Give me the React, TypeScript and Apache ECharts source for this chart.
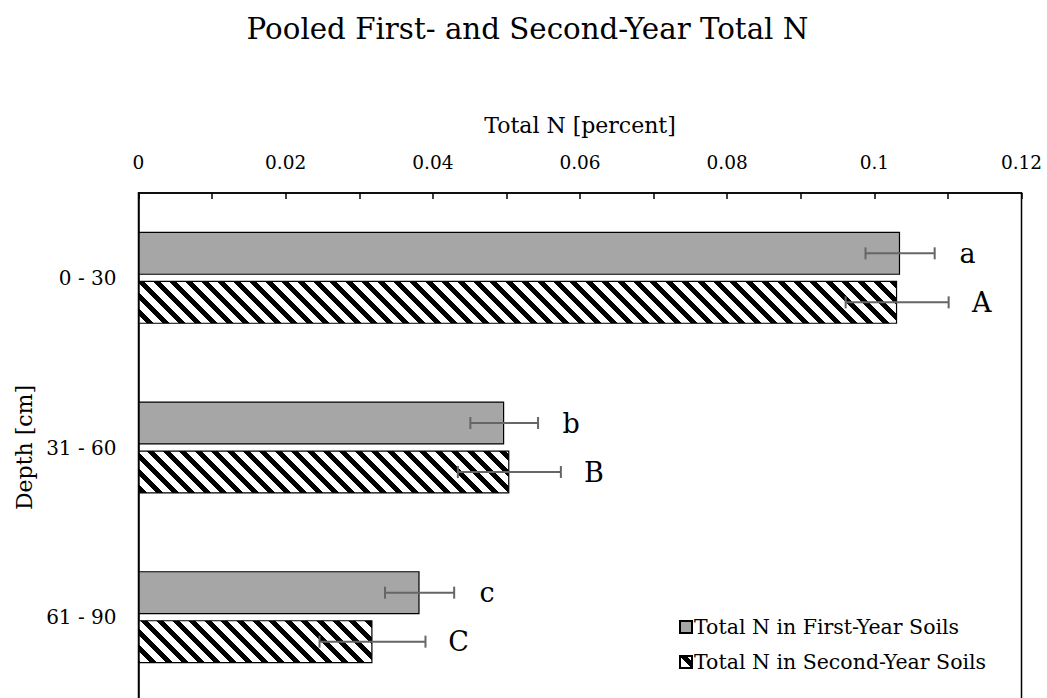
import React, { useEffect, useRef } from "react";
import * as echarts from "echarts";

const categories = ["0 - 30", "31 - 60", "61 - 90"];
const seriesNames = ["Total N in First-Year Soils", "Total N in Second-Year Soils"];
const firstYear = [0.1035, 0.0497, 0.0382];
const firstYearErr = [0.0047, 0.0046, 0.0047];
const firstYearLetters = ["a", "b", "c"];
const secondYear = [0.1031, 0.0504, 0.0318];
const secondYearErr = [0.0070, 0.0070, 0.0072];
const secondYearLetters = ["A", "B", "C"];
const xTickMin = 0;
const xTickMax = 0.12;
const xTickInterval = 0.02;

const FONT = "'DejaVu Serif', 'Liberation Serif', serif";
const BAR_W = 43;
const BAR_GAP = 6;

function makeHatch(): HTMLCanvasElement {
  const c = document.createElement("canvas");
  c.width = 16;
  c.height = 16;
  const ctx = c.getContext("2d")!;
  ctx.fillStyle = "#ffffff";
  ctx.fillRect(0, 0, 16, 16);
  ctx.fillStyle = "#000000";
  for (let y = 0; y < 16; y++) {
    for (let x = 0; x < 16; x++) {
      if (((x - y + 32) % 16) < 7) ctx.fillRect(x, y, 1, 1);
    }
  }
  return c;
}

export default function App() {
  const ref = useRef<HTMLDivElement>(null);
  useEffect(() => {
    if (!ref.current) return;
    const chart = echarts.init(ref.current, undefined, { renderer: "svg" });
    const hatch = makeHatch();
    const hatchFill: any = {
      image: hatch.toDataURL(),
      repeat: "repeat",
      imageWidth: 16,
      imageHeight: 16,
    };

    const errData: any[] = [];
    categories.forEach((_, i) => {
      errData.push([i, firstYear[i], firstYearErr[i], firstYearLetters[i], 0]);
      errData.push([i, secondYear[i], secondYearErr[i], secondYearLetters[i], 1]);
    });

    const option: any = {
      animation: false,
      textStyle: { fontFamily: FONT },
      graphic: [
        {
          type: "text",
          x: 527.5,
          y: 29,
          style: {
            text: "Pooled First- and Second-Year Total N",
            font: `29.3px ${FONT}`,
            fill: "#000",
            textAlign: "center",
            textVerticalAlign: "middle",
          },
        },
      ],
      grid: {
        left: 138.5,
        right: 25.5,
        top: 193,
        bottom: 18,
        show: true,
        borderColor: "#000",
        borderWidth: 1.5,
        backgroundColor: "transparent",
      },
      legend: {
        orient: "vertical",
        left: 679,
        top: 616.5,
        padding: 0,
        itemWidth: 12,
        itemHeight: 12,
        itemGap: 14,
        icon: "rect",
        data: seriesNames,
        textStyle: { fontFamily: FONT, fontSize: 20.5, color: "#000", padding: [0, 0, 0, -3] },
      },
      xAxis: {
        type: "value",
        position: "top",
        min: xTickMin,
        max: xTickMax,
        interval: xTickInterval,
        name: "Total N [percent]",
        nameLocation: "middle",
        nameGap: 57,
        nameTextStyle: { fontFamily: FONT, fontSize: 22, color: "#000" },
        axisLine: { show: true, lineStyle: { color: "#000", width: 1.5 } },
        axisTick: { show: true, inside: true, length: 6, lineStyle: { color: "#000", width: 1.5 } },
        minorTick: { show: true, splitNumber: 2, length: 6, lineStyle: { color: "#000", width: 1.5 } },
        axisLabel: { fontFamily: FONT, fontSize: 18.5, color: "#000", margin: 21 },
        splitLine: { show: false },
      },
      yAxis: {
        type: "category",
        inverse: true,
        data: categories,
        name: "Depth [cm]",
        nameLocation: "middle",
        nameGap: 102,
        nameRotate: 90,
        nameTextStyle: { fontFamily: FONT, fontSize: 22, color: "#000" },
        axisLine: { show: true, lineStyle: { color: "#000", width: 1.5 } },
        axisTick: { show: false },
        axisLabel: { fontFamily: FONT, fontSize: 20, color: "#000", margin: 22 },
        splitLine: { show: false },
      },
      series: [
        {
          name: seriesNames[0],
          type: "bar",
          data: firstYear,
          barWidth: BAR_W,
          barGap: `${(BAR_GAP / BAR_W) * 100}%`,
          itemStyle: { color: "#a6a6a6", borderColor: "#000", borderWidth: 1.2 },
        },
        {
          name: seriesNames[1],
          type: "bar",
          data: secondYear,
          barWidth: BAR_W,
          barGap: `${(BAR_GAP / BAR_W) * 100}%`,
          itemStyle: { color: hatchFill, borderColor: "#000", borderWidth: 1.2 },
        },
        {
          type: "custom",
          name: "errors",
          data: errData,
          z: 10,
          renderItem: (params: any, api: any) => {
            const cat = api.value(0);
            const v = api.value(1);
            const e = api.value(2);
            const idx = api.value(4);
            const letter = errData[params.dataIndex][3];
            const yc = api.coord([0, cat])[1] + (idx === 0 ? -1 : 1) * (BAR_W + BAR_GAP) / 2;
            const x1 = api.coord([v - e, cat])[0];
            const x2 = api.coord([v + e, cat])[0];
            const ls = { stroke: "#666666", lineWidth: 2 };
            return {
              type: "group",
              children: [
                { type: "line", shape: { x1, y1: yc, x2, y2: yc }, style: ls },
                { type: "line", shape: { x1, y1: yc - 6, x2: x1, y2: yc + 6 }, style: ls },
                { type: "line", shape: { x1: x2, y1: yc - 6, x2, y2: yc + 6 }, style: ls },
                {
                  type: "text",
                  x: x2 + 33,
                  y: yc,
                  style: {
                    text: letter,
                    font: `27px ${FONT}`,
                    fill: "#000",
                    textAlign: "center",
                    textVerticalAlign: "middle",
                  },
                },
              ],
            };
          },
        },
      ],
    };
    chart.setOption(option);
    return () => chart.dispose();
  }, []);
  return (
    <div
      ref={ref}
      style={{ position: "fixed", left: 0, top: 0, width: 1047, height: 720, background: "#fff" }}
    />
  );
}
